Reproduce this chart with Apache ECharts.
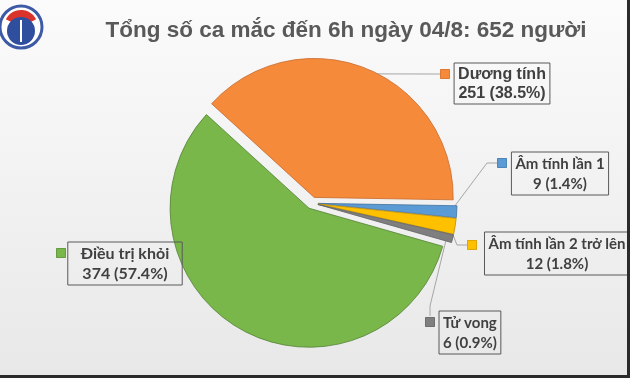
<!DOCTYPE html>
<html>
<head>
<meta charset="utf-8">
<script src="https://cdn.jsdelivr.net/npm/echarts@6/dist/echarts.min.js"></script>
<style>
  html, body { margin: 0; padding: 0; background: #2b2b2b; }
  #chart { width: 627px; height: 375px; }
</style>
</head>
<body>
<div id="chart"></div>
<script>
const titleText = 'Tổng số ca mắc đến 6h ngày 04/8: 652 người'
const categories = ['Dương tính', 'Âm tính lần 1', 'Âm tính lần 2 trở lên', 'Tử vong', 'Điều trị khỏi']
const counts = [251, 9, 12, 6, 374]
const colors = ['#F68A3B', '#5B9BD5', '#FFC000', '#7F7F7F', '#79B74B']
const edgeColors = ['#C8692B', '#41719C', '#BC8C00', '#5F5F5F', '#548235']

// label boxes: [x, y(top), align] and the little squares beside them (centre)
const boxPos = [[502, 63, 'center'], [560, 152, 'center'], [557, 232, 'center'], [439, 311, 'left'], [125, 242, 'center']]
const markPos = [[445, 74], [502, 163], [472, 245], [430, 322], [61, 253]]

const chart = echarts.init(document.getElementById('chart'))

const markRich = {}
colors.forEach((c, i) => {
  markRich['m' + i] = { width: 9, height: 9, backgroundColor: c, borderColor: edgeColors[i], borderWidth: 0.5 }
})

const pieBase = {
  type: 'pie',
  center: [312, 203],
  radius: 139,
  startAngle: 137.6,
  clockwise: true,
  percentPrecision: 1,
  avoidLabelOverlap: false,
  animation: false,
  emphasis: { disabled: true }
}

// invisible copy of the pie, only used to carry labels
function ghostPie (name, extra) {
  return Object.assign({}, pieBase, {
    name: name,
    silent: true,
    itemStyle: { color: 'rgba(0,0,0,0)', borderWidth: 0 },
    data: categories.map((n, i) => ({ name: n, value: counts[i] }))
  }, extra)
}

const option = {
  backgroundColor: {
    type: 'linear', x: 0, y: 0, x2: 0, y2: 1,
    colorStops: [{ offset: 0, color: '#fbfbfb' }, { offset: 1, color: '#e8e8e8' }]
  },
  title: {
    text: titleText,
    left: 341,
    top: 14,
    textAlign: 'center',
    textStyle: {
      fontFamily: 'Liberation Sans',
      fontSize: 22.5,
      fontWeight: 'bold',
      color: '#595959'
    }
  },
  graphic: [
    // logo, roughly
    { type: 'circle', shape: { cx: 21, cy: 27, r: 21 }, style: { fill: '#fff', stroke: '#3d5aa6', lineWidth: 3 } },
    { type: 'sector', shape: { cx: 21, cy: 27, r: 17, r0: 0, startAngle: Math.PI * 1.15, endAngle: Math.PI * 1.85 }, style: { fill: '#d9332b' } },
    { type: 'circle', shape: { cx: 21, cy: 31, r: 14 }, style: { fill: '#2f4f9e' } },
    { type: 'line', shape: { x1: 21, y1: 20, x2: 21, y2: 42 }, style: { stroke: '#fff', lineWidth: 2 } }
  ],
  series: [
    Object.assign({}, pieBase, {
      name: 'slices',
      selectedMode: 'multiple',
      selectedOffset: 6,
      itemStyle: { borderWidth: 0.8 },
      label: { show: false },
      labelLine: { show: false },
      data: categories.map((name, i) => ({
        name: name,
        value: counts[i],
        selected: true,
        itemStyle: { color: colors[i], borderColor: edgeColors[i] }
      }))
    }),
    ghostPie('marks', {
      data: categories.map((n, i) => ({ name: n, value: counts[i], labelLine: { show: i !== 4 } })),
      label: {
        show: true,
        formatter: (p) => '{m' + p.dataIndex + '|}',
        rich: markRich
      },
      labelLine: {
        show: true,
        length: 10,
        length2: 10,
        lineStyle: { color: '#a6a6a6', width: 1 }
      },
      labelLayout: (p) => ({
        x: markPos[p.dataIndex][0],
        y: markPos[p.dataIndex][1],
        align: 'center',
        verticalAlign: 'middle'
      })
    }),
    ghostPie('boxes', {
      data: categories.map((name, i) => ({
        name: name,
        value: counts[i],
        label: i === 0 ? { fontFamily: 'Liberation Sans', fontSize: 16, lineHeight: 19 }
          : i === 4 ? { fontSize: 16, padding: [2, 13, 1, 13] } : {}
      })),
      label: {
        show: true,
        formatter: '{b}\n{c} ({d}%)',
        color: '#404040',
        fontFamily: 'Lato',
        fontWeight: 'bold',
        fontSize: 15,
        lineHeight: 20,
        borderColor: '#595959',
        borderWidth: 1,
        padding: [2, 4, 1, 4]
      },
      labelLine: { show: false },
      labelLayout: (p) => ({
        x: boxPos[p.dataIndex][0],
        y: boxPos[p.dataIndex][1],
        align: boxPos[p.dataIndex][2],
        verticalAlign: 'top'
      })
    })
  ]
}

chart.setOption(option)
</script>
</body>
</html>
